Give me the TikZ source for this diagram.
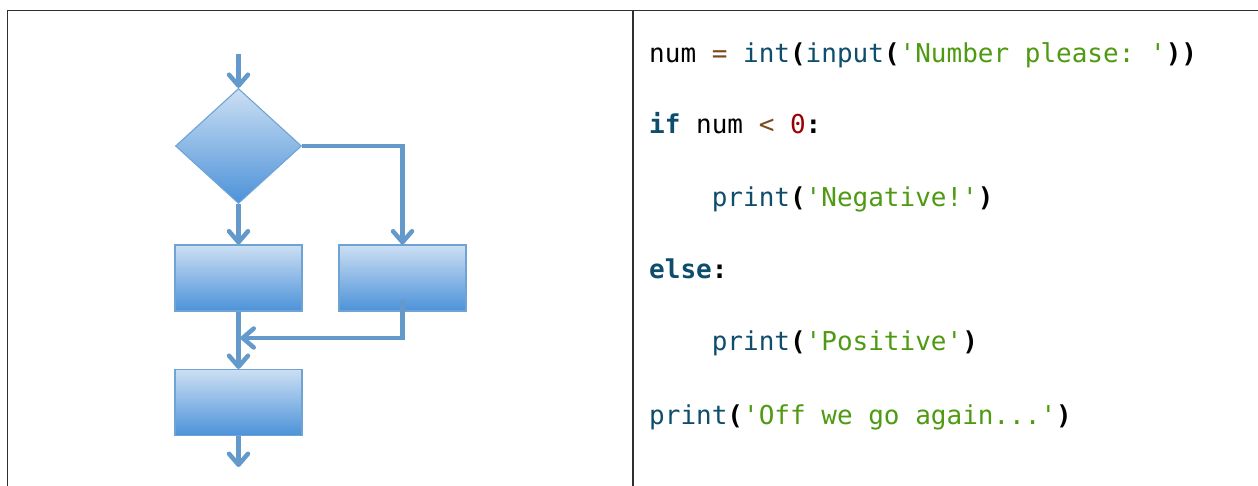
\documentclass[tikz,border=0pt]{standalone}
\usepackage{fontspec}
\setmonofont{DejaVu Sans Mono}
\usetikzlibrary{shapes.geometric,arrows.meta}

\definecolor{framegray}{HTML}{303030}
\definecolor{flowblue}{HTML}{6399CB}
\definecolor{boxedge}{HTML}{6FA3D6}
\definecolor{boxtop}{HTML}{CCDFF3}
\definecolor{boxbot}{HTML}{4C92D9}
\definecolor{pyname}{HTML}{0E4D6C}
\definecolor{pystr}{HTML}{4E9A12}
\definecolor{pyop}{HTML}{7B4A1A}
\definecolor{pynum}{HTML}{990000}

% code colouring helpers
\newcommand{\pyN}[1]{\textcolor{pyname}{#1}}
\newcommand{\pyK}[1]{\textcolor{pyname}{\bfseries #1}}
\newcommand{\pyS}[1]{\textcolor{pystr}{#1}}
\newcommand{\pyO}[1]{\textcolor{pyop}{#1}}
\newcommand{\pyP}[1]{{\bfseries #1}}

\tikzset{
  frameline/.style={draw=framegray, line width=1.2pt},
  stepbox/.style={rectangle, draw=boxedge, line width=1.1pt,
    top color=boxtop, bottom color=boxbot, inner sep=0pt,
    minimum width=127pt, minimum height=66pt},
  decision/.style={diamond, draw=boxedge, line width=1.1pt,
    top color=boxtop, bottom color=boxbot, inner sep=0pt,
    minimum width=126pt, minimum height=115pt},
  flow/.style={draw=flowblue, line width=4.5pt,
    -{Straight Barb[length=11pt,width=19pt,round]}},
  codeline/.style={anchor=base west, inner sep=0pt,
    font=\ttfamily\fontsize{26}{30}\selectfont}
}

\begin{document}
\begin{tikzpicture}[x=1pt,y=-1pt]
\useasboundingbox (0,0) rectangle (1258,486);

% table frame
\draw[frameline] (7.5,486) -- (7.5,10.5) -- (1258,10.5);
\draw[frameline] (633,10.5) -- (633,486);

% flowchart shapes
\node[decision] (cond) at (238.5,146) {};
\node[stepbox] (neg) at (238.5,278) {};
\node[stepbox] (pos) at (402.5,278) {};
\node[stepbox] (next) at (238.5,402.5) {};

\coordinate (start) at (238.5,54);
\coordinate (merge) at (238.5,338);
\coordinate (end) at (238.5,467);
\coordinate (posout) at (402.5,300);

% connectors
\draw[flow] (start) -- (cond.north);
\draw[flow] (cond.south) -- (neg.north);
\draw[flow] (cond.east) -| (pos.north);
\draw[flow] (neg.south) -- (next.north);
\draw[flow, shorten >=2pt] (posout) |- (merge);
\draw[flow] (next.south) -- (end);

% code listing
\node[codeline] (l1) at (649,63) {num \pyO{=} \pyN{int}\pyP{(}\pyN{input}\pyP{(}\pyS{'Number\ please:\ '}\pyP{))}};
\node[codeline] (l2) at (649,133.5) {\pyK{if} num \pyO{<} \textcolor{pynum}{0}\pyP{:}};
\node[codeline] (l3) at (711.6,206.5) {\pyN{print}\pyP{(}\pyS{'Negative!'}\pyP{)}};
\node[codeline] (l4) at (649,278.3) {\pyK{else}\pyP{:}};
\node[codeline] (l5) at (711.6,350.5) {\pyN{print}\pyP{(}\pyS{'Positive'}\pyP{)}};
\node[codeline] (l6) at (649,424.5) {\pyN{print}\pyP{(}\pyS{'Off\ we\ go\ again...'}\pyP{)}};
\end{tikzpicture}
\end{document}
